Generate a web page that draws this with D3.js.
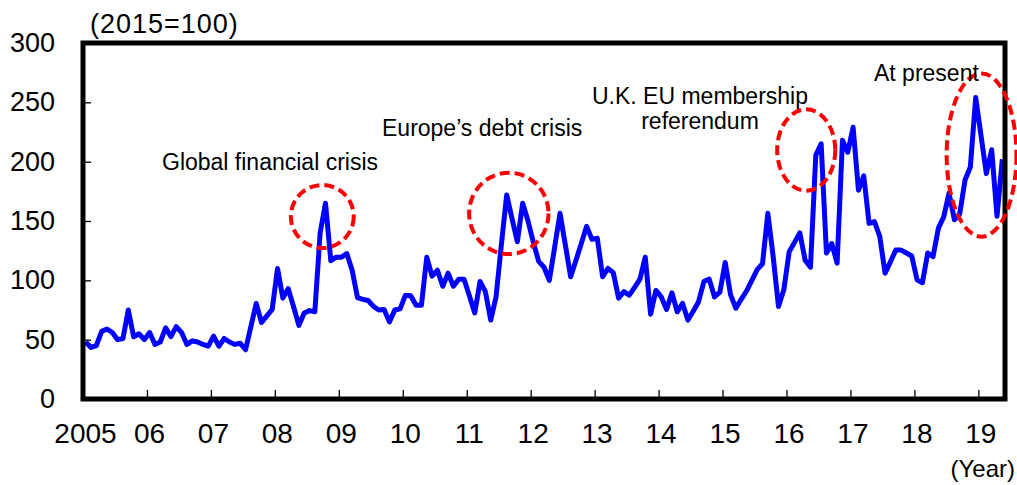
<!DOCTYPE html>
<html>
<head>
<meta charset="utf-8">
<script src="https://cdn.jsdelivr.net/npm/d3@7/dist/d3.min.js"></script>
<style>
  html, body { margin: 0; padding: 0; background: #fff; }
  svg { display: block; font-family: Arial, "Liberation Sans", sans-serif; }
</style>
</head>
<body>
<svg id="chart" width="1017" height="485"></svg>
<script>
// Monthly index, 2015 = 100, from January 2005 to May 2019
const startYear = 2005;
const values = [
  // 2005
  48, 43.5, 45, 57, 59, 56, 50, 51, 75, 52.5, 55, 50,
  // 2006
  56, 46, 48, 60, 52.5, 61, 56, 46, 49, 48, 46, 44.5,
  // 2007
  53, 44.5, 51, 48, 46, 47, 41.5, 61, 80.5, 64.5, 70, 75.5,
  // 2008
  110, 85, 93, 78, 62, 72.5, 74.5, 73.5, 140, 165, 116.5, 119.5,
  // 2009
  119.5, 122.5, 108.5, 85.5, 84, 83, 78, 75, 75.5, 65, 75, 76,
  // 2010
  87.5, 87, 79, 79, 119.5, 103.5, 108.5, 95, 106, 95, 101, 101,
  // 2011
  87, 72.5, 99, 90.5, 66.5, 86, 130, 172, 152, 132.5, 165, 150,
  // 2012
  132, 116, 111, 100, 128, 156.5, 130, 103, 117, 131, 145.5, 134.5,
  // 2013
  135.5, 103, 110, 106.5, 85, 90.5, 87.5, 94, 101, 119.5, 71.5, 91.5,
  // 2014
  86, 75.5, 89.5, 73.5, 80.5, 66.5, 74, 82, 99, 101, 86, 90,
  // 2015
  115, 88, 76.5, 84, 91, 100, 109, 114, 156.5, 120, 78, 92,
  // 2016
  124, 132, 140, 117, 111, 205.5, 215, 123, 131, 114.5, 218, 208,
  // 2017
  229, 176, 188, 148, 149.5, 137, 106, 115.5, 125.5, 125.5, 123, 120.5,
  // 2018
  100.5, 98, 123, 120, 144, 153.5, 173.5, 151, 156, 184.5, 195.5, 254,
  // 2019
  222, 190, 210, 154, 202
];

const yearLabels = ["2005", "06", "07", "08", "09", "10", "11", "12", "13", "14", "15", "16", "17", "18", "19"];
const yTickValues = [0, 50, 100, 150, 200, 250, 300];

// Highlighted episodes: centre (month index, value) and radii (months, index points)
const highlightMonths = [44.9, 79.9, 135.7, 168.6];
const highlightValues = [153.8, 156.4, 209.8, 205.6];
const highlightMonthRadii = [5.9, 7.45, 5.45, 6.55];
const highlightValueRadii = [26.5, 34.3, 34.3, 68.8];

const svg = d3.select("#chart");
const plotLeft = 83, plotRight = 1005, plotTop = 43, plotBottom = 399;

const x = d3.scaleLinear().domain([0, values.length]).range([plotLeft, plotRight]);
const y = d3.scaleLinear().domain([0, 300]).range([plotBottom, plotTop]);

svg.append("rect").attr("width", 1017).attr("height", 485).attr("fill", "#fff");

// Y axis: ticks pointing into the plot, labels to the left
const yAxis = svg.append("g")
  .attr("transform", `translate(${plotLeft},0)`)
  .call(d3.axisLeft(y).tickValues(yTickValues).tickSizeInner(-8).tickSizeOuter(0).tickPadding(28));
yAxis.select(".domain").remove();
yAxis.selectAll(".tick line").attr("stroke", "#000").attr("stroke-width", 1.3);
yAxis.selectAll(".tick text")
  .attr("font-size", 27).attr("fill", "#000")
  .attr("font-family", "Arial, 'Liberation Sans', sans-serif");

// X axis: year boundaries every 12 months
const xAxis = svg.append("g")
  .attr("transform", `translate(0,${plotBottom})`)
  .call(d3.axisBottom(x)
    .tickValues(yearLabels.map((_, k) => k * 12))
    .tickFormat((d, k) => yearLabels[k])
    .tickSizeInner(-9).tickSizeOuter(0).tickPadding(24));
xAxis.select(".domain").remove();
xAxis.selectAll(".tick line").attr("stroke", "#000").attr("stroke-width", 1.3);
xAxis.selectAll(".tick text")
  .attr("font-size", 28).attr("fill", "#000").attr("dx", 2)
  .attr("font-family", "Arial, 'Liberation Sans', sans-serif");

// Index line
const line = d3.line()
  .x((d, i) => x(i + 0.5))
  .y(d => y(d));

svg.append("path")
  .datum(values)
  .attr("fill", "none")
  .attr("stroke", "#0000ff")
  .attr("stroke-width", 5)
  .attr("stroke-linejoin", "round")
  .attr("d", line);

// Plot frame
svg.append("rect")
  .attr("x", plotLeft).attr("y", plotTop)
  .attr("width", plotRight - plotLeft).attr("height", plotBottom - plotTop)
  .attr("fill", "none").attr("stroke", "#000").attr("stroke-width", 5);

// Dashed ellipses around episodes
const pxPerMonth = x(1) - x(0);
const pxPerPoint = y(0) - y(1);
svg.append("g").selectAll("ellipse")
  .data(highlightMonths)
  .join("ellipse")
  .attr("cx", d => x(d))
  .attr("cy", (d, i) => y(highlightValues[i]))
  .attr("rx", (d, i) => highlightMonthRadii[i] * pxPerMonth)
  .attr("ry", (d, i) => highlightValueRadii[i] * pxPerPoint)
  .attr("fill", "none")
  .attr("stroke", "#ff0000")
  .attr("stroke-width", 4)
  .attr("stroke-dasharray", "10,5");

// Text labels
const txt = (s, xx, yy, size, anchor) => svg.append("text")
  .attr("x", xx).attr("y", yy)
  .attr("font-size", size)
  .attr("text-anchor", anchor || "start")
  .attr("fill", "#000")
  .text(s);

txt("(2015=100)", 90, 33, 27).attr("letter-spacing", 1);
txt("(Year)", 1015, 477, 24, "end");
txt("Global financial crisis", 162, 170, 23);
txt("Europe\u2019s debt crisis", 382, 136, 23);
txt("U.K. EU membership", 700, 104, 23, "middle");
txt("referendum", 700, 129, 23, "middle");
txt("At present", 874, 81, 23);
</script>
</body>
</html>
